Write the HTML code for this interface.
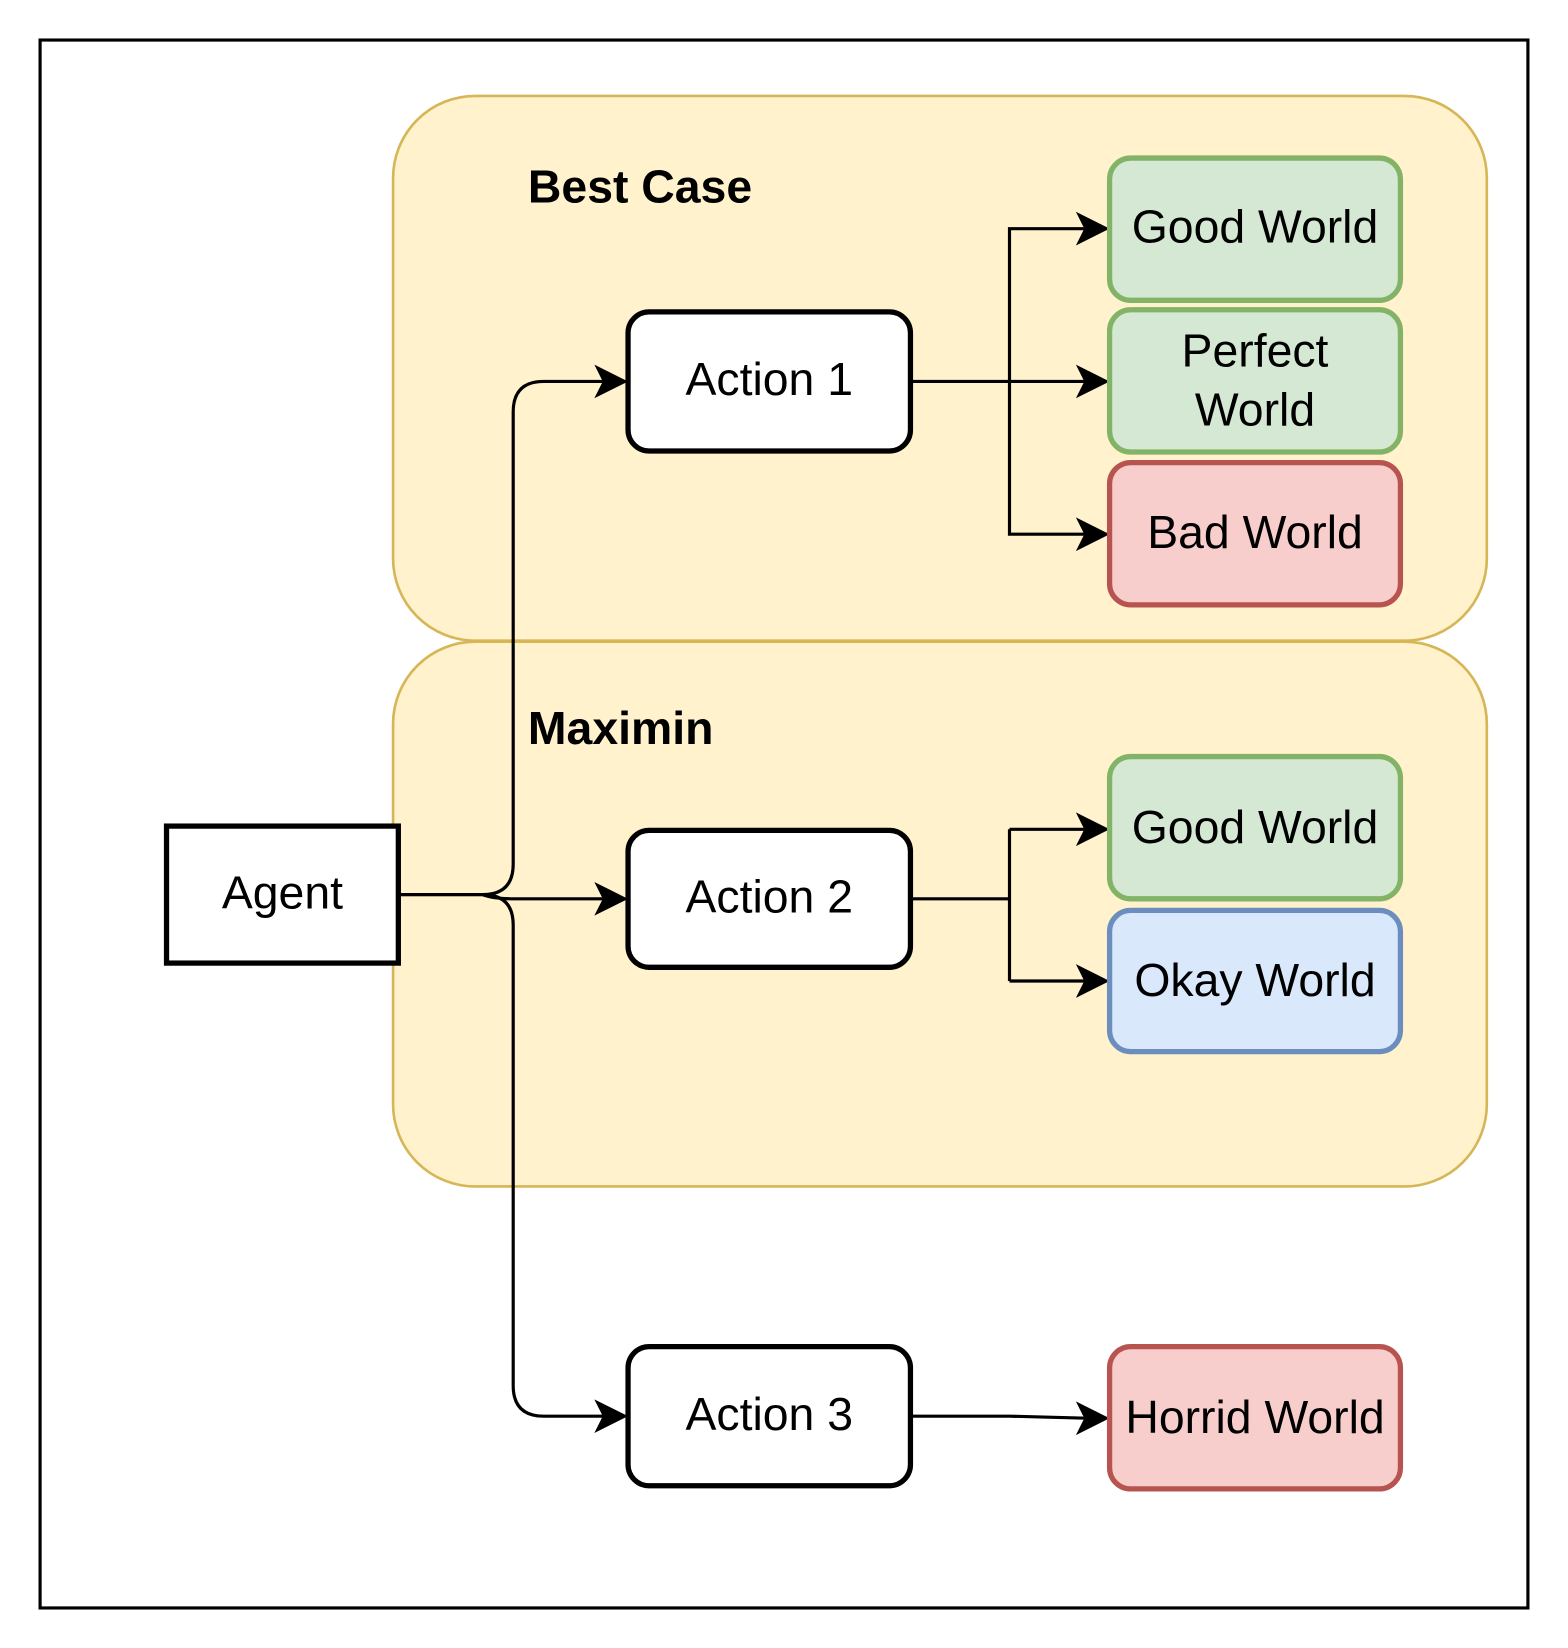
<!DOCTYPE html>
<html><head><style>html,body{margin:0;padding:0;background:#fff}svg{display:block}</style></head>
<body>
<svg width="1568" height="1648" viewBox="2 2 1488 1564" xmlns="http://www.w3.org/2000/svg" font-family="Liberation Sans, Arial, sans-serif">
<defs>
<marker id="a" markerWidth="10" markerHeight="10" refX="9" refY="5" orient="auto" markerUnits="userSpaceOnUse" viewBox="0 0 10 10">
</marker>
</defs>
<rect x="40" y="40" width="1412" height="1488" fill="#fff" stroke="#000" stroke-width="3"/>
<rect x="375" y="93" width="1038" height="517" rx="78" fill="#fff2cc" stroke="#d6b656" stroke-width="2.5"/>
<rect x="375" y="611" width="1038" height="517" rx="78" fill="#fff2cc" stroke="#d6b656" stroke-width="2.5"/>
<text x="503" y="194" font-size="44" font-weight="bold">Best Case</text>
<text x="503" y="708" font-size="44" font-weight="bold">Maximin</text>
<g fill="none" stroke="#000" stroke-width="3">
<path d="M380 851 H460 Q489 851 489 822 V393 Q489 364 518 364 H580"/>
<path d="M380 851 H460 Q470 855 490 855 H580"/>
<path d="M380 851 H460 Q489 851 489 880 V1317 Q489 1346 518 1346 H580"/>
<path d="M866 364 H1037 M960 364 V219 H1037 M960 364 V509 H1037"/>
<path d="M866 855 H960 M960 789 V933 M960 789 H1037 M960 933 H1037"/>
<path d="M866 1346 H960 L1037 1348"/>
</g>
<g fill="#000">
<path d="M598 364 L566 348 L574 364 L566 380Z"/>
<path d="M598 855 L566 839 L574 855 L566 871Z"/>
<path d="M598 1346 L566 1330 L574 1346 L566 1362Z"/>
<path d="M1055 219 L1023 203 L1031 219 L1023 235Z"/>
<path d="M1055 364 L1023 348 L1031 364 L1023 380Z"/>
<path d="M1055 509 L1023 493 L1031 509 L1023 525Z"/>
<path d="M1055 789 L1023 773 L1031 789 L1023 805Z"/>
<path d="M1055 933 L1023 917 L1031 933 L1023 949Z"/>
<path d="M1055 1348 L1023 1332 L1031 1348 L1023 1364Z"/>
</g>
<rect x="160" y="786" width="220" height="130" fill="#fff" stroke="#000" stroke-width="5"/>
<g fill="#fff" stroke="#000" stroke-width="5">
<rect x="598" y="298" width="268" height="132" rx="20"/>
<rect x="598" y="790" width="268" height="130" rx="20"/>
<rect x="598" y="1280" width="268" height="132" rx="20"/>
</g>
<g stroke-width="5">
<rect x="1055" y="152" width="276" height="135" rx="20" fill="#d5e8d4" stroke="#82b366"/>
<rect x="1055" y="296" width="276" height="135" rx="20" fill="#d5e8d4" stroke="#82b366"/>
<rect x="1055" y="441" width="276" height="135" rx="20" fill="#f8cecc" stroke="#b85450"/>
<rect x="1055" y="720" width="276" height="135" rx="20" fill="#d5e8d4" stroke="#82b366"/>
<rect x="1055" y="866" width="276" height="134" rx="20" fill="#dae8fc" stroke="#6c8ebf"/>
<rect x="1055" y="1280" width="276" height="135" rx="20" fill="#f8cecc" stroke="#b85450"/>
</g>
<g font-size="44" text-anchor="middle" fill="#000">
<text x="270" y="864">Agent</text>
<text x="732" y="377">Action 1</text>
<text x="732" y="868">Action 2</text>
<text x="732" y="1359">Action 3</text>
<text x="1193" y="232">Good World</text>
<text x="1193" y="350">Perfect</text>
<text x="1193" y="406">World</text>
<text x="1193" y="522">Bad World</text>
<text x="1193" y="802">Good World</text>
<text x="1193" y="947">Okay World</text>
<text x="1193" y="1362">Horrid World</text>
</g>
</svg>
</body></html>
